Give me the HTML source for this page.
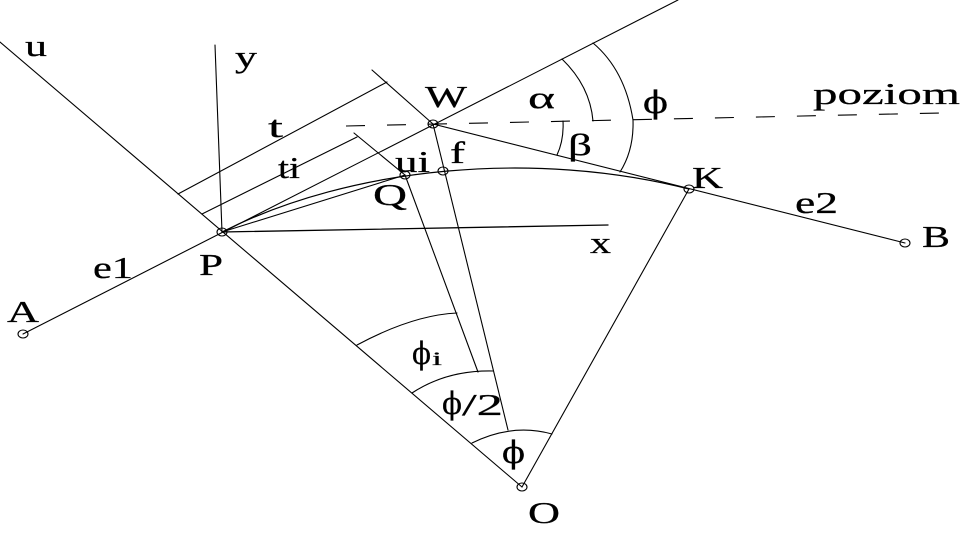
<!DOCTYPE html>
<html>
<head>
<meta charset="utf-8">
<style>
  html,body{margin:0;padding:0;background:#fff;}
  svg{display:block;}
  text{font-family:"Liberation Serif","DejaVu Serif",serif;font-size:31px;fill:#000;stroke:#000;stroke-width:0.25;}
  text.ph{font-family:"DejaVu Serif","Liberation Serif",serif;}
</style>
</head>
<body>
<svg width="963" height="533" viewBox="0 0 963 533" xmlns="http://www.w3.org/2000/svg">
  <g fill="none" stroke="#000" stroke-width="1.1" stroke-linecap="round">
    <!-- u line -->
    <line x1="0" y1="42" x2="522" y2="487"/>
    <!-- y axis -->
    <line x1="215" y1="45" x2="222" y2="232"/>
    <!-- x axis -->
    <line x1="222" y1="232" x2="608" y2="225" stroke-width="1.3"/>
    <!-- e1 line extended -->
    <line x1="23" y1="334" x2="678" y2="0"/>
    <!-- W - K - B -->
    <line x1="433" y1="124" x2="905" y2="243"/>
    <!-- line through W parallel to u -->
    <line x1="372" y1="70" x2="433" y2="124"/>
    <!-- t dimension -->
    <line x1="178" y1="194" x2="387" y2="82"/>
    <!-- ti dimension -->
    <line x1="202" y1="214" x2="357" y2="137"/>
    <!-- ti extension to Q -->
    <line x1="354" y1="133" x2="405" y2="175"/>
    <!-- Q to O -->
    <line x1="405" y1="175" x2="478" y2="372"/>
    <!-- W f line -->
    <line x1="433" y1="124" x2="508" y2="430"/>
    <!-- K to O -->
    <line x1="689" y1="189" x2="522" y2="487"/>
    <!-- chord P-Q -->
    <line x1="222" y1="232" x2="405" y2="175"/>
    <!-- arc P-K -->
    <path d="M222,232 C352,166 535,150 689,189" stroke-width="1.2"/>
    <!-- dashed horizontal -->
    <line x1="346" y1="126" x2="940" y2="113" stroke-dasharray="19 22" stroke-linecap="butt"/>
    <!-- angle arcs at W -->
    <path d="M562,59 Q590,86 593,121"/>
    <path d="M593,43 Q625,70 633,120 Q634,150 620,172"/>
    <path d="M563,121 Q564,140 557,155"/>
    <!-- angle arcs at O -->
    <path d="M357,345 Q413,315 457,313"/>
    <path d="M412,393 Q447,370 493,371"/>
    <path d="M472,443 Q512,423 552,434"/>
    <!-- point circles -->
    <ellipse cx="23" cy="334" rx="5" ry="4"/>
    <ellipse cx="222" cy="232" rx="5" ry="4"/>
    <ellipse cx="433" cy="124" rx="5" ry="4"/>
    <ellipse cx="405" cy="175" rx="5" ry="4"/>
    <ellipse cx="443" cy="171" rx="5" ry="4"/>
    <ellipse cx="689" cy="189" rx="5" ry="4"/>
    <ellipse cx="905" cy="243" rx="5" ry="4"/>
    <ellipse cx="522" cy="487" rx="5" ry="4"/>
  </g>

  <!-- labels -->
  <text x="25" y="56" textLength="22" lengthAdjust="spacingAndGlyphs">u</text>
  <text x="235" y="67" textLength="22" lengthAdjust="spacingAndGlyphs">y</text>
  <text x="268" y="137" textLength="15" lengthAdjust="spacingAndGlyphs">t</text>
  <text x="278" y="178" textLength="22" lengthAdjust="spacingAndGlyphs">ti</text>
  <text x="425" y="107" textLength="42" lengthAdjust="spacingAndGlyphs">W</text>
  <text x="528" y="108" textLength="27" lengthAdjust="spacingAndGlyphs">α</text>
  <text class="ph" x="643" y="113" textLength="25" lengthAdjust="spacingAndGlyphs">ϕ</text>
  <text x="568" y="155" textLength="24" lengthAdjust="spacingAndGlyphs">β</text>
  <text x="813" y="104" textLength="147" lengthAdjust="spacingAndGlyphs">poziom</text>
  <text x="395" y="172" textLength="35" lengthAdjust="spacingAndGlyphs">ui</text>
  <text x="450" y="163" textLength="15" lengthAdjust="spacingAndGlyphs">f</text>
  <text x="373" y="205" textLength="34" lengthAdjust="spacingAndGlyphs">Q</text>
  <text x="692" y="188" textLength="31" lengthAdjust="spacingAndGlyphs">K</text>
  <text x="795" y="213" textLength="43" lengthAdjust="spacingAndGlyphs">e2</text>
  <text x="922" y="247" textLength="28" lengthAdjust="spacingAndGlyphs">B</text>
  <text x="590" y="253" textLength="21" lengthAdjust="spacingAndGlyphs">x</text>
  <text x="93" y="278" textLength="40" lengthAdjust="spacingAndGlyphs">e1</text>
  <text x="199" y="275" textLength="24" lengthAdjust="spacingAndGlyphs">P</text>
  <text x="7" y="322" textLength="32" lengthAdjust="spacingAndGlyphs">A</text>
  <text class="ph" x="412" y="364" textLength="19" lengthAdjust="spacingAndGlyphs">ϕ</text>
  <text x="432" y="365" style="font-size:19px" textLength="10" lengthAdjust="spacingAndGlyphs">i</text>
  <text class="ph" x="442" y="414" textLength="20" lengthAdjust="spacingAndGlyphs">ϕ</text>
  <text x="462" y="415" textLength="41" lengthAdjust="spacingAndGlyphs">/2</text>
  <text class="ph" x="502" y="463" textLength="23" lengthAdjust="spacingAndGlyphs">ϕ</text>
  <text x="528" y="523" textLength="32" lengthAdjust="spacingAndGlyphs">O</text>
</svg>
</body>
</html>
